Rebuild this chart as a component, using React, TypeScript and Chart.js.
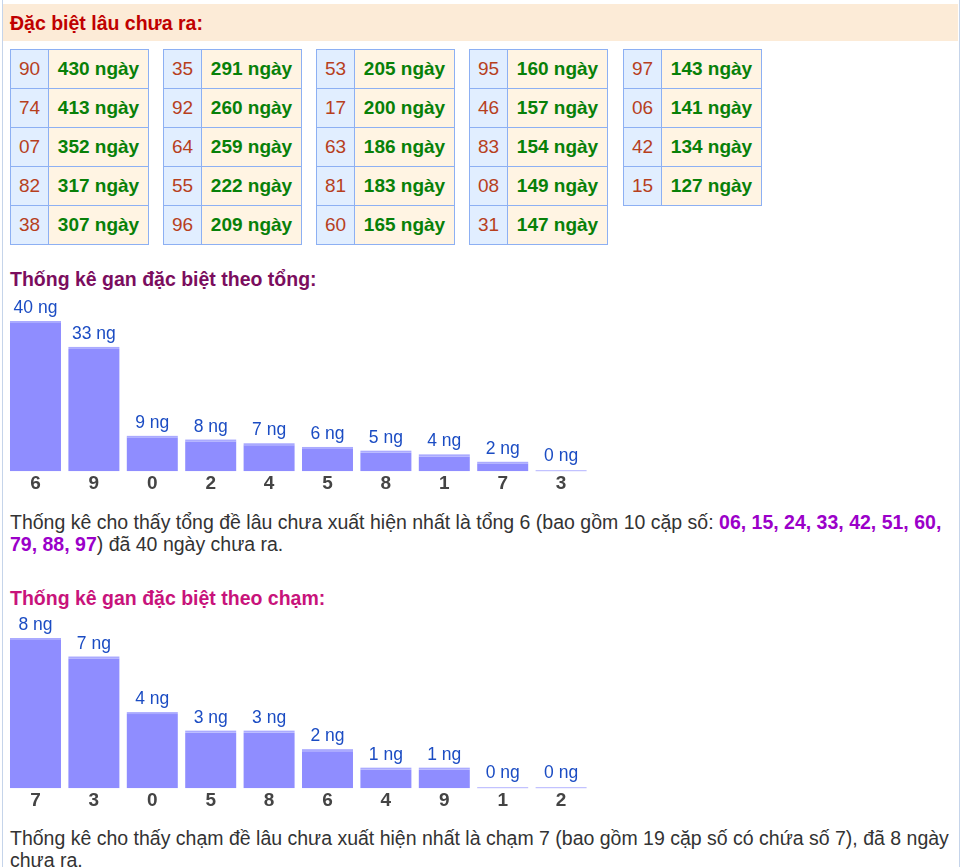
import React, { useEffect, useRef } from "react";
import { Chart, registerables } from "chart.js";

Chart.register(...registerables);

const FONT = '"Liberation Sans", Arial, Helvetica, sans-serif';

// ---- Data ----
const gapNumbers: string[][] = [
  ["90", "74", "07", "82", "38"],
  ["35", "92", "64", "55", "96"],
  ["53", "17", "63", "81", "60"],
  ["95", "46", "83", "08", "31"],
  ["97", "06", "42", "15"],
];
const gapDays: number[][] = [
  [430, 413, 352, 317, 307],
  [291, 260, 259, 222, 209],
  [205, 200, 186, 183, 165],
  [160, 157, 154, 149, 147],
  [143, 141, 134, 127],
];

const tongLabels = ["6", "9", "0", "2", "4", "5", "8", "1", "7", "3"];
const tongValues = [40, 33, 9, 8, 7, 6, 5, 4, 2, 0];

const chamLabels = ["7", "3", "0", "5", "8", "6", "4", "9", "1", "2"];
const chamValues = [8, 7, 4, 3, 3, 2, 1, 1, 0, 0];

const tongPairs = ["06", "15", "24", "33", "42", "51", "60", "79", "88", "97"];

// ---- Chart helpers ----
const barDecor = {
  id: "barDecor",
  afterDatasetsDraw(chart: any) {
    const ctx = chart.ctx;
    const meta = chart.getDatasetMeta(0);
    const data = chart.data.datasets[0].data as number[];
    ctx.save();
    meta.data.forEach((bar: any, i: number) => {
      const { x, y, width } = bar.getProps(["x", "y", "width"], true);
      const v = data[i];
      if (v === 0) {
        ctx.fillStyle = "#b3b3ff";
        ctx.fillRect(x - width / 2, y - 1, width, 1);
      } else {
        ctx.fillStyle = "#aaaaff";
        ctx.fillRect(x - width / 2, y - 2, width, 2);
      }
      ctx.fillStyle = "#1b4cc3";
      ctx.font = "17.5px " + FONT;
      ctx.textAlign = "center";
      ctx.textBaseline = "alphabetic";
      ctx.fillText(v + " ng", x, y - 10);
    });
    ctx.restore();
  },
};

function BarChart({ labels, values, top }: { labels: string[]; values: number[]; top: number }) {
  const ref = useRef<HTMLCanvasElement>(null);
  useEffect(() => {
    if (!ref.current) return;
    const chart = new Chart(ref.current, {
      type: "bar",
      data: {
        labels,
        datasets: [
          {
            data: values,
            backgroundColor: "#8f8dff",
            borderWidth: 0,
            barPercentage: 0.873,
            categoryPercentage: 1,
          },
        ],
      },
      options: {
        animation: false,
        responsive: false,
        maintainAspectRatio: false,
        layout: { padding: { top: 33, left: 6.3, right: 9.7, bottom: 0 } },
        plugins: { legend: { display: false }, tooltip: { enabled: false } },
        scales: {
          x: {
            grid: { display: false, drawTicks: false },
            border: { display: false },
            ticks: {
              color: "#444",
              padding: 1,
              font: { family: FONT, size: 19, weight: "bold" },
            },
          },
          y: { display: false, min: 0, max: Math.max(...values) },
        },
      },
      plugins: [barDecor],
    } as any);
    return () => chart.destroy();
  }, []);
  return (
    <canvas
      ref={ref}
      width={600}
      height={206}
      style={{ position: "absolute", left: 0, top, width: 600, height: 206 }}
    />
  );
}

const tableLefts = [10, 163, 316, 469, 623];

function GapTable({ nums, days, left }: { nums: string[]; days: number[]; left: number }) {
  const border = "1px solid #8db0f3";
  return (
    <div
      style={{
        position: "absolute",
        left,
        top: 49,
        borderTop: border,
        borderLeft: border,
        width: 138,
      }}
    >
      {nums.map((n, i) => (
        <div key={i} style={{ display: "flex", height: 39 }}>
          <div
            style={{
              boxSizing: "border-box",
              width: 38,
              height: 39,
              borderRight: border,
              borderBottom: border,
              background: "#e1eeff",
              color: "#b73f1d",
              fontSize: 19,
              lineHeight: "38px",
              textAlign: "center",
            }}
          >
            {n}
          </div>
          <div
            style={{
              boxSizing: "border-box",
              width: 100,
              height: 39,
              borderRight: border,
              borderBottom: border,
              background: "#fff4e3",
              color: "#088008",
              fontSize: 19,
              fontWeight: "bold",
              lineHeight: "38px",
              textAlign: "center",
            }}
          >
            {days[i]} ngày
          </div>
        </div>
      ))}
    </div>
  );
}

export default function App() {
  const purple = { color: "#9b00c9", fontWeight: "bold" as const };
  const lineStyle = (top: number) => ({
    position: "absolute" as const,
    left: 10,
    top,
    fontSize: 19.5,
    lineHeight: "22px",
    whiteSpace: "nowrap" as const,
    color: "#333",
  });
  return (
    <div
      style={{
        position: "absolute",
        left: 0,
        top: 0,
        width: 961,
        height: 867,
        overflow: "hidden",
        background: "#fff",
        fontFamily: FONT,
      }}
    >
      <div style={{ position: "absolute", left: 2, top: 0, width: 1, height: 867, background: "#c5d4ea" }} />
      <div style={{ position: "absolute", left: 959, top: 0, width: 1, height: 867, background: "#c5d4ea" }} />
      <div style={{ position: "absolute", left: 3, top: 4, width: 955, height: 37, background: "#fcebd7" }} />
      <div
        style={{
          position: "absolute",
          left: 10,
          top: 11,
          fontSize: 19.5,
          lineHeight: "24px",
          fontWeight: "bold",
          color: "#c00000",
          whiteSpace: "nowrap",
        }}
      >
        Đặc biệt lâu chưa ra:
      </div>

      {gapNumbers.map((nums, i) => (
        <GapTable key={i} nums={nums} days={gapDays[i]} left={tableLefts[i]} />
      ))}

      <div
        style={{
          position: "absolute",
          left: 10,
          top: 267,
          fontSize: 19.5,
          lineHeight: "24px",
          fontWeight: "bold",
          color: "#7b0d5e",
          whiteSpace: "nowrap",
        }}
      >
        Thống kê gan đặc biệt theo tổng:
      </div>

      <BarChart labels={tongLabels} values={tongValues} top={290} />

      <div style={lineStyle(511)}>
        Thống kê cho thấy tổng đề lâu chưa xuất hiện nhất là tổng 6 (bao gồm 10 cặp số:{" "}
        <span style={purple}>{tongPairs.slice(0, 7).join(", ")},</span>
      </div>
      <div style={lineStyle(533)}>
        <span style={purple}>{tongPairs.slice(7).join(", ")}</span>) đã 40 ngày chưa ra.
      </div>

      <div
        style={{
          position: "absolute",
          left: 10,
          top: 586,
          fontSize: 19.5,
          lineHeight: "24px",
          fontWeight: "bold",
          color: "#c8137b",
          whiteSpace: "nowrap",
        }}
      >
        Thống kê gan đặc biệt theo chạm:
      </div>

      <BarChart labels={chamLabels} values={chamValues} top={607} />

      <div style={lineStyle(827)}>
        Thống kê cho thấy chạm đề lâu chưa xuất hiện nhất là chạm 7 (bao gồm 19 cặp số có chứa số 7), đã 8 ngày
      </div>
      <div style={lineStyle(849)}>chưa ra.</div>
    </div>
  );
}
